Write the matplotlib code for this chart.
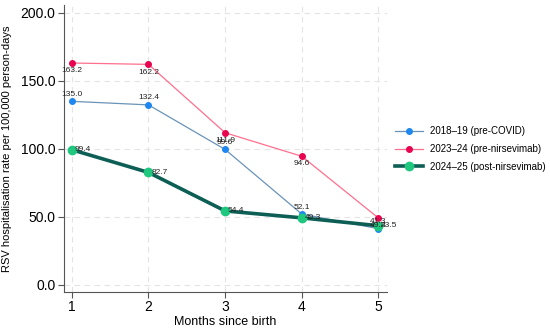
import matplotlib
matplotlib.use("Agg")
import matplotlib.pyplot as plt

months = [1, 2, 3, 4, 5]
s2018 = [135.0, 132.4, 99.6, 52.1, 41.3]
s2023 = [163.2, 162.2, 111.9, 94.6, 49.2]
s2024 = [99.4, 82.7, 54.4, 49.3, 43.5]
labels = ["2018–19 (pre-COVID)", "2023–24 (pre-nirsevimab)", "2024–25 (post-nirsevimab)"]
yticks = [0, 50, 100, 150, 200]

plt.rcParams['font.family'] = ['Liberation Sans', 'DejaVu Sans']
fig = plt.figure(figsize=(5.5, 3.31), dpi=100)
ax = fig.add_axes([0.116, 0.118, 0.588, 0.867])

ax.plot(months, s2018, color='#6a93b8', lw=0.9, marker='o', ms=4,
        mfc='#1e88f0', mec='#1e88f0', label=labels[0], zorder=3)
ax.plot(months, s2023, color='#ff6f8e', lw=0.9, marker='o', ms=4,
        mfc='#e8054f', mec='#e8054f', label=labels[1], zorder=3)
ax.plot(months, s2024, color='#0d5f56', lw=2.6, marker='o', ms=6,
        mfc='#20c77f', mec='#20c77f', label=labels[2], zorder=4)

for x, y in zip(months, s2018):
    ax.annotate(f"{y:.1f}", (x, y), xytext=(0, 2.5), textcoords='offset points',
                ha='center', va='bottom', fontsize=6, color='#222222', zorder=5)
for x, y in zip(months, s2023):
    ax.annotate(f"{y:.1f}", (x, y), xytext=(0, -3), textcoords='offset points',
                ha='center', va='top', fontsize=6, color='#222222', zorder=5)
for x, y in zip(months, s2024):
    ax.annotate(f"{y:.1f}", (x, y), xytext=(2, 0), textcoords='offset points',
                ha='left', va='center', fontsize=6, color='#222222', zorder=5)

ax.set_xlim(0.895, 5.115)
ax.set_ylim(-5.2, 205.9)
ax.set_xticks(months)
ax.set_yticks(yticks)
ax.set_yticklabels([f"{v:.1f}" for v in yticks])
ax.tick_params(labelsize=10, color='#555555', length=4, pad=2)
ax.grid(True, color='#e4e4e4', ls=(0, (5, 4)), lw=0.8)
ax.set_axisbelow(True)
for s in ['top', 'right']:
    ax.spines[s].set_visible(False)
for s in ['left', 'bottom']:
    ax.spines[s].set_color('#555555')
    ax.spines[s].set_linewidth(0.8)
ax.set_xlabel("Months since birth", fontsize=9, labelpad=1)
ax.set_ylabel("RSV hospitalisation rate per 100,000 person-days", fontsize=8, labelpad=6)

fig.legend(loc='center left', bbox_to_anchor=(0.718, 0.55), frameon=False,
           fontsize=7, handlelength=2.9, handletextpad=0.7, labelspacing=0.8,
           borderpad=0, borderaxespad=0)
fig.savefig("out.png", dpi=100)
